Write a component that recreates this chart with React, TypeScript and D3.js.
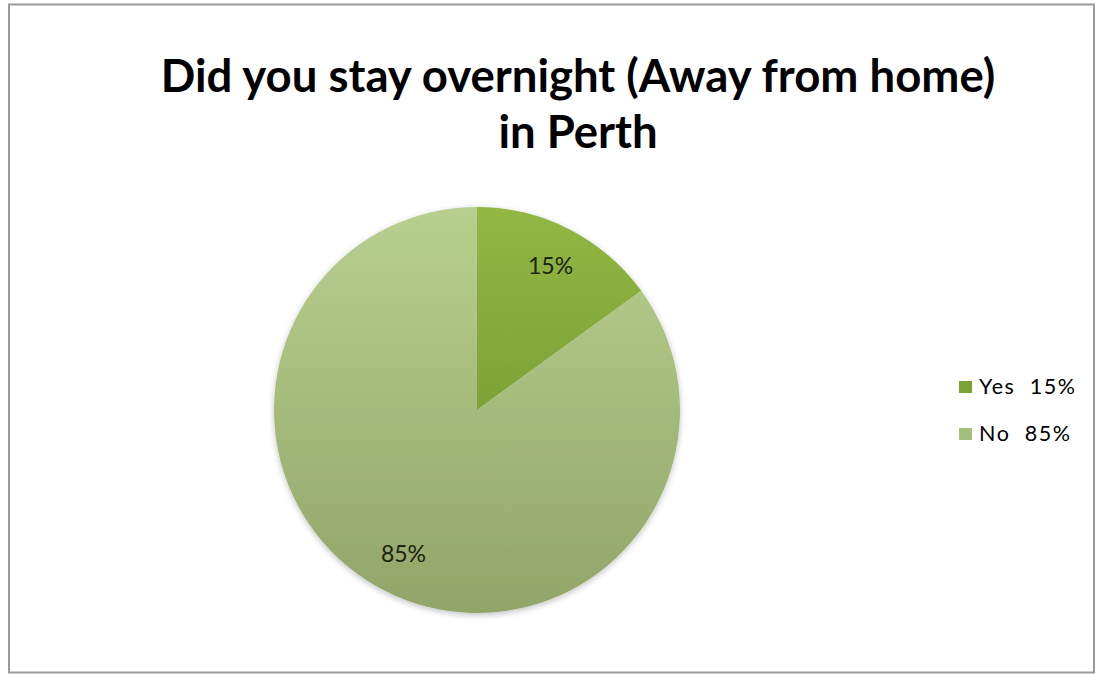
import React from "react";
import * as d3 from "d3";

const titleLines = ["Did you stay overnight (Away from home)", "in Perth"];
const categories = ["Yes", "No"];
const values = [15, 85];
const legendLabels = ["Yes  15%", "No  85%"];
const topColors = ["#92b743", "#b8d08f"];
const bottomColors = ["#688c2b", "#91a568"];
const legendColors = ["#7aa133", "#a5bf7c"];

export default function App() {
  const W = 1096, H = 674;
  const cx = 477, cy = 410, r = 203;
  const pie = d3.pie<number>().sort(null).value((d) => d);
  const arcs = pie(values);
  const arc = d3.arc<d3.PieArcDatum<number>>().innerRadius(0).outerRadius(r);
  const labelArc = d3.arc<d3.PieArcDatum<number>>().innerRadius(162).outerRadius(162);
  const font = "Lato, 'Open Sans', sans-serif";
  return (
    <svg width={W} height={H} style={{ position: "absolute", left: 0, top: 0 }}>
      <defs>
        {categories.map((c, i) => (
          <linearGradient key={c} id={`g${i}`} gradientUnits="userSpaceOnUse" x1={0} y1={-r} x2={0} y2={r}>
            <stop offset="0" stopColor={topColors[i]} />
            <stop offset="1" stopColor={bottomColors[i]} />
          </linearGradient>
        ))}
        <filter id="sh" x="-20%" y="-20%" width="140%" height="140%">
          <feGaussianBlur in="SourceAlpha" stdDeviation="3" />
          <feOffset dx="0" dy="2" result="b" />
          <feComponentTransfer><feFuncA type="linear" slope="0.25" /></feComponentTransfer>
          <feMerge><feMergeNode /><feMergeNode in="SourceGraphic" /></feMerge>
        </filter>
      </defs>
      <rect x={0} y={0} width={W} height={H} fill="#fff" />
      <rect x={9} y={4.5} width={1085} height={668} fill="#fff" stroke="#9a9a9a" strokeWidth={2} />
      {titleLines.map((t, i) => (
        <text key={i} x={578} y={92 + i * 56} textAnchor="middle" fontFamily={font} fontWeight="bold" fontSize={45.5} fill="#000">{t}</text>
      ))}
      <g transform={`translate(${cx},${cy})`} filter="url(#sh)">
        {arcs.map((a, i) => (
          <path key={i} d={arc(a) as string} fill={`url(#g${i})`} />
        ))}
      </g>
      <g transform={`translate(${cx},${cy})`}>
        {arcs.map((a, i) => {
          const [x, y] = labelArc.centroid(a);
          return (
            <text key={i} x={x} y={y} dy="0.35em" textAnchor="middle" fontFamily={font} fontSize={23} fill="#1a2410">{values[i]}%</text>
          );
        })}
      </g>
      {legendLabels.map((l, i) => (
        <g key={i} transform={`translate(959,${381 + i * 47})`}>
          <rect x={0} y={0} width={13} height={12} fill={legendColors[i]} />
          <text x={20} y={13} fontFamily={font} fontSize={21.5} letterSpacing={1.6} fill="#000" style={{ whiteSpace: "pre" }}>{l}</text>
        </g>
      ))}
    </svg>
  );
}
